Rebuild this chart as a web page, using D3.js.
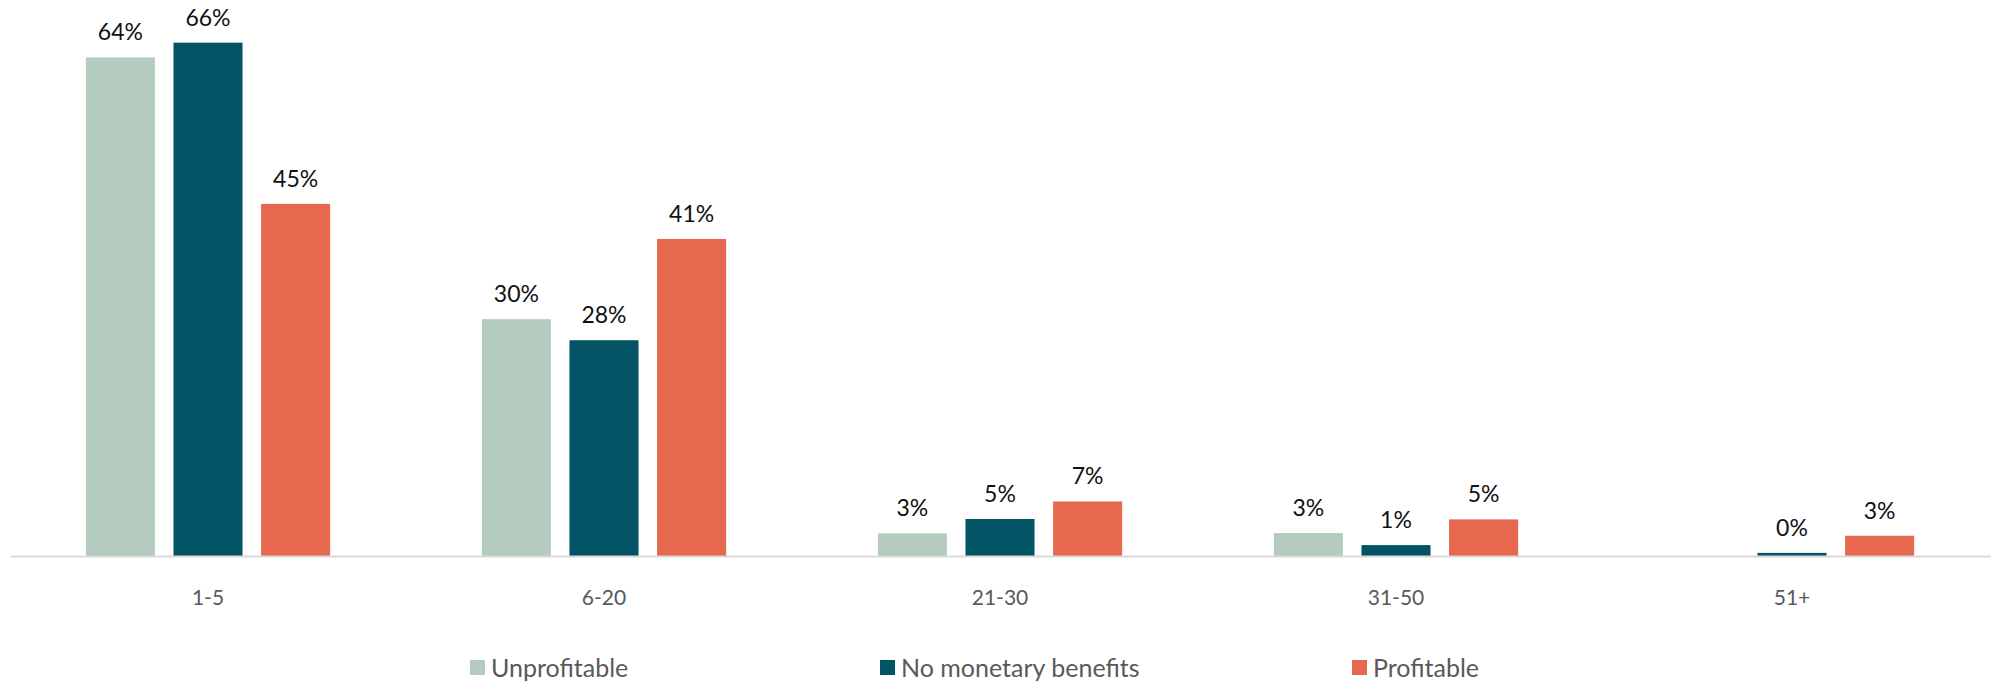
<!DOCTYPE html>
<html>
<head>
<meta charset="utf-8">
<script src="https://cdn.jsdelivr.net/npm/d3@7"></script>
<style>
    body { margin: 0; background: #fff; }
    #chart { width: 1994px; height: 684px; }
    text { font-family: Lato, "Open Sans", sans-serif; }
</style>
</head>
<body>
<div id="chart"></div>
<script>
// data
const categories = ["1-5", "6-20", "21-30", "31-50", "51+"];
const seriesNames = ["Unprofitable", "No monetary benefits", "Profitable"];
const unprofitable = [64.0, 30.4, 2.9, 2.95, null];
const noMonetary = [65.9, 27.7, 4.75, 1.4, 0.4];
const profitable = [45.2, 40.7, 7.0, 4.7, 2.6];
const seriesColors = ["#b5cbbf", "#025464", "#e5684f"];

const seriesValues = [unprofitable, noMonetary, profitable];

document.addEventListener('DOMContentLoaded', function () {
    drawChart();
});

function drawChart() {
    const width = 1994;
    const height = 684;
    const margin = {top: 10, right: 4, bottom: 128, left: 10};

    const svg = d3.select('#chart')
        .append('svg')
        .attr('width', width)
        .attr('height', height);

    const baseline = height - margin.bottom;

    // scales
    const x0 = d3.scaleBand()
        .domain(categories)
        .range([margin.left, width - margin.right])
        .padding(0);

    const x1 = d3.scaleBand()
        .domain(seriesNames)
        .range([0, x0.bandwidth()])
        .paddingInner(0.212)
        .paddingOuter(0.866);

    const y = d3.scaleLinear()
        .domain([0, 70])
        .range([baseline, baseline - 70 * 7.79]);

    // rows for the grouped bars
    const rows = [];
    categories.forEach((cat, i) => {
        seriesNames.forEach((s, j) => {
            const v = seriesValues[j][i];
            if (v === null) return;
            rows.push({cat: cat, series: s, value: v, color: seriesColors[j]});
        });
    });

    svg.selectAll('rect.bar')
        .data(rows)
        .join('rect')
        .attr('class', 'bar')
        .attr('x', d => x0(d.cat) + x1(d.series))
        .attr('y', d => y(d.value))
        .attr('width', x1.bandwidth())
        .attr('height', d => baseline - y(d.value))
        .style('fill', d => d.color);

    // value labels
    svg.selectAll('text.val')
        .data(rows)
        .join('text')
        .attr('class', 'val')
        .attr('x', d => x0(d.cat) + x1(d.series) + x1.bandwidth() / 2)
        .attr('y', d => y(d.value) - 17)
        .attr('text-anchor', 'middle')
        .style('font-size', '23px')
        .style('fill', '#111')
        .text(d => Math.round(d.value) + '%');

    // x axis
    const xAxis = svg.append('g')
        .attr('transform', `translate(0, ${baseline})`)
        .call(d3.axisBottom(x0).tickSize(0).tickPadding(34));

    xAxis.select('.domain')
        .attr('stroke', '#d9d9d9')
        .attr('stroke-width', 2);

    xAxis.selectAll('.tick text')
        .style('font-size', '21px')
        .style('font-family', 'Lato, "Open Sans", sans-serif')
        .style('fill', '#595959');

    // legend
    const legendX = [470, 880, 1352];
    const legend = svg.selectAll('.legend')
        .data(seriesNames)
        .join('g')
        .attr('class', 'legend')
        .attr('transform', (d, i) => `translate(${legendX[i]}, 668)`);

    legend.append('rect')
        .attr('x', 0)
        .attr('y', -8)
        .attr('width', 15)
        .attr('height', 15)
        .style('fill', (d, i) => seriesColors[i]);

    legend.append('text')
        .attr('x', 21)
        .attr('y', 0)
        .attr('dy', '0.35em')
        .style('font-size', '25px')
        .style('fill', '#595959')
        .text(d => d);
}
</script>
</body>
</html>
